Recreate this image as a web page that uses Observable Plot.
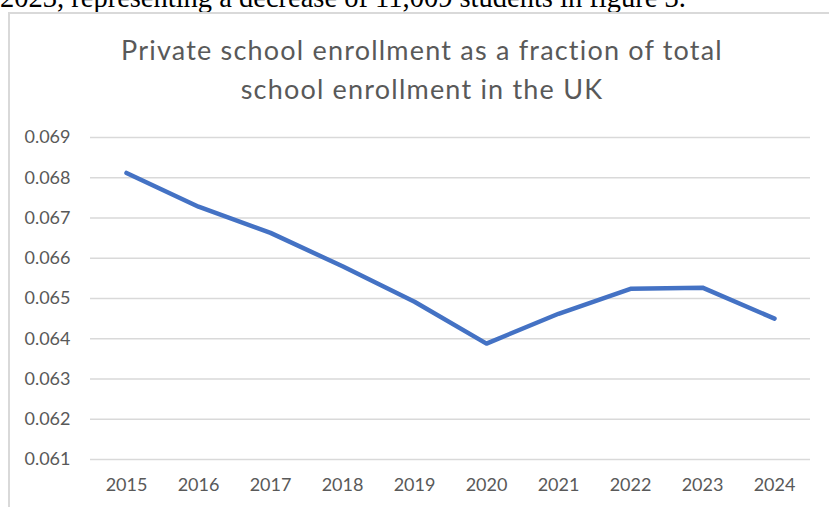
<!DOCTYPE html>
<html>
<head>
<meta charset="utf-8">
<script src="https://cdn.jsdelivr.net/npm/d3@7"></script>
<script src="https://cdn.jsdelivr.net/npm/@observablehq/plot@0.6"></script>
<style>
  html, body { margin: 0; padding: 0; background: #fff; }
  body { width: 829px; height: 507px; position: relative; overflow: hidden; }
  #lead { position: absolute; left: 0; top: -16px; font-family: "Liberation Serif", "Times New Roman", serif; font-size: 28.5px; line-height: 28.5px; color: #000; white-space: nowrap; }
  #box { position: absolute; left: 8px; top: 12px; width: 840px; height: 520px; border-left: 2px solid #d9d9d9; border-top: 2px solid #d9d9d9; box-sizing: border-box; }
  #title { position: absolute; left: 0; top: 30px; width: 844px; text-align: center; font-family: Lato, sans-serif; font-size: 27px; line-height: 39px; letter-spacing: 1.2px; color: #595959; }
  #chart { position: absolute; left: 0; top: 100px; }
</style>
</head>
<body>
<div id="lead">2023, representing a decrease of 11,009 students in figure 3.</div>
<div id="box"></div>
<div id="title">Private school enrollment as a fraction of total<br>school enrollment in the UK</div>
<div id="chart"></div>
<script>
const years = ["2015","2016","2017","2018","2019","2020","2021","2022","2023","2024"];
const fractions = [0.06812, 0.06728, 0.06663, 0.06580, 0.06492, 0.06388, 0.06462, 0.06524, 0.06527, 0.06450];
const yTicks = [0.061, 0.062, 0.063, 0.064, 0.065, 0.066, 0.067, 0.068, 0.069];

const data = years.map((y, i) => ({year: y, value: fractions[i]}));

const chart = Plot.plot({
  width: 829,
  height: 407,
  marginLeft: 90,
  marginRight: 19,
  marginTop: 37,
  marginBottom: 48,
  style: {fontFamily: "Lato, sans-serif", fontSize: "18px", color: "#595959", background: "transparent", overflow: "visible"},
  x: {type: "point", domain: years, padding: 0.5, label: null, tickSize: 0, tickPadding: 19},
  y: {domain: [0.061, 0.069], ticks: yTicks, tickFormat: d3.format(".3f"), label: null, tickSize: 0, tickPadding: 20},
  marks: [
    Plot.ruleY(yTicks, {stroke: "#d9d9d9", strokeWidth: 1.5}),
    Plot.line(data, {x: "year", y: "value", stroke: "#4472C4", strokeWidth: 4.5, strokeLinejoin: "round", strokeLinecap: "round"})
  ]
});
document.getElementById("chart").appendChild(chart);
</script>
</body>
</html>
